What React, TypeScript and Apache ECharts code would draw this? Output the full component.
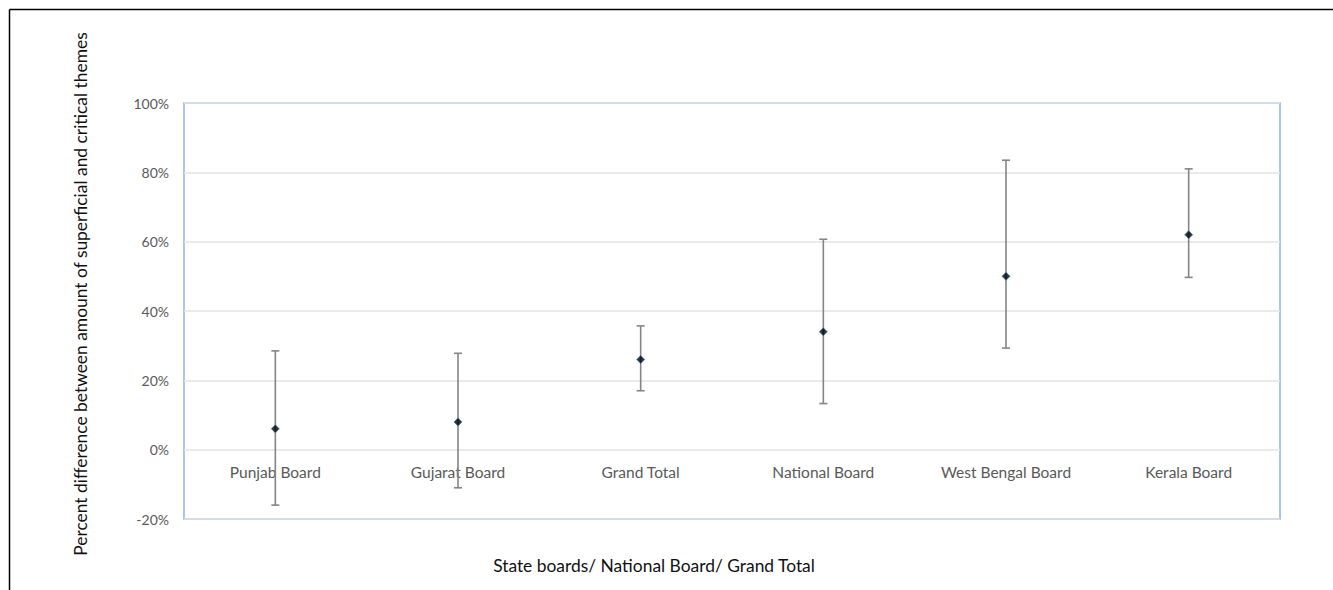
import React, { useEffect, useRef } from "react";
import * as echarts from "echarts";

const categories = [
  "Punjab Board",
  "Gujarat Board",
  "Grand Total",
  "National Board",
  "West Bengal Board",
  "Kerala Board",
];
const means = [6, 8, 26, 34, 50, 62];
const upperBounds = [28.5, 27.8, 35.7, 60.7, 83.5, 81];
const lowerBounds = [-16, -11, 17, 13.3, 29.3, 49.7];
const yTicks = [-20, 0, 20, 40, 60, 80, 100];
const xTitle = "State boards/ National Board/ Grand Total";
const yTitle = "Percent difference between amount of superficial and critical themes";

const FONT = "Lato, 'Open Sans', sans-serif";

export default function App() {
  const ref = useRef<HTMLDivElement>(null);

  useEffect(() => {
    if (!ref.current) return;
    const chart = echarts.init(ref.current, null, { renderer: "svg" });
    const errData = categories.map((_, i) => [i, lowerBounds[i], upperBounds[i]]);
    chart.setOption({
      animation: false,
      backgroundColor: "#ffffff",
      grid: {
        left: 184,
        right: 53,
        top: 103,
        bottom: 71,
        containLabel: false,
        outerBoundsMode: "none",
        show: true,
        borderColor: "#8db4e2",
        borderWidth: 1.5,
        backgroundColor: "transparent",
      },
      xAxis: {
        type: "category",
        data: categories,
        axisLine: { show: false, onZero: false },
        axisTick: { show: false },
        axisLabel: {
          fontFamily: FONT,
          fontSize: 15.5,
          color: "#595959",
          margin: -55,
        },
        splitLine: { show: false },
      },
      yAxis: {
        type: "value",
        min: yTicks[0],
        max: yTicks[yTicks.length - 1],
        interval: 20,
        axisLine: { show: false },
        axisTick: { show: false },
        axisLabel: {
          fontFamily: FONT,
          fontSize: 14,
          color: "#595959",
          margin: 15,
          formatter: (v: number) => `${Math.round(v)}%`,
        },
        splitLine: { show: true, lineStyle: { color: "#e3e3e3", width: 1.5 } },
      },
      series: [
        {
          type: "custom",
          data: errData,
          renderItem: (params: any, api: any) => {
            const idx = api.value(0);
            const lo = api.coord([idx, api.value(1)]);
            const hi = api.coord([idx, api.value(2)]);
            const cap = 4;
            const style = { stroke: "#858585", lineWidth: 1.6 };
            return {
              type: "group",
              children: [
                { type: "line", shape: { x1: lo[0], y1: lo[1], x2: hi[0], y2: hi[1] }, style },
                { type: "line", shape: { x1: hi[0] - cap, y1: hi[1], x2: hi[0] + cap, y2: hi[1] }, style },
                { type: "line", shape: { x1: lo[0] - cap, y1: lo[1], x2: lo[0] + cap, y2: lo[1] }, style },
              ],
            };
          },
          z: 2,
        },
        {
          type: "scatter",
          data: means,
          symbol: "diamond",
          symbolSize: 8,
          itemStyle: { color: "#000000", borderColor: "#2e75b6", borderWidth: 0.8 },
          z: 3,
        },
      ],
      graphic: [
        {
          type: "line",
          shape: { x1: 9.5, y1: 9.5, x2: 1333, y2: 9.5 },
          style: { stroke: "#000000", lineWidth: 1.5 },
        },
        {
          type: "line",
          shape: { x1: 9.5, y1: 9.5, x2: 9.5, y2: 590 },
          style: { stroke: "#000000", lineWidth: 1.5 },
        },
        {
          type: "text",
          x: 654,
          y: 565,
          style: {
            text: xTitle,
            fontFamily: FONT,
            fontSize: 17.4,
            fill: "#111111",
            align: "center",
            verticalAlign: "middle",
          },
        },
        {
          type: "text",
          x: 80,
          y: 294,
          rotation: Math.PI / 2,
          style: {
            text: yTitle,
            fontFamily: FONT,
            fontSize: 17.4,
            fill: "#111111",
            align: "center",
            verticalAlign: "middle",
          },
        },
      ],
    });
    return () => chart.dispose();
  }, []);

  return (
    <div
      ref={ref}
      style={{ position: "fixed", left: 0, top: 0, width: 1333, height: 590 }}
    />
  );
}
